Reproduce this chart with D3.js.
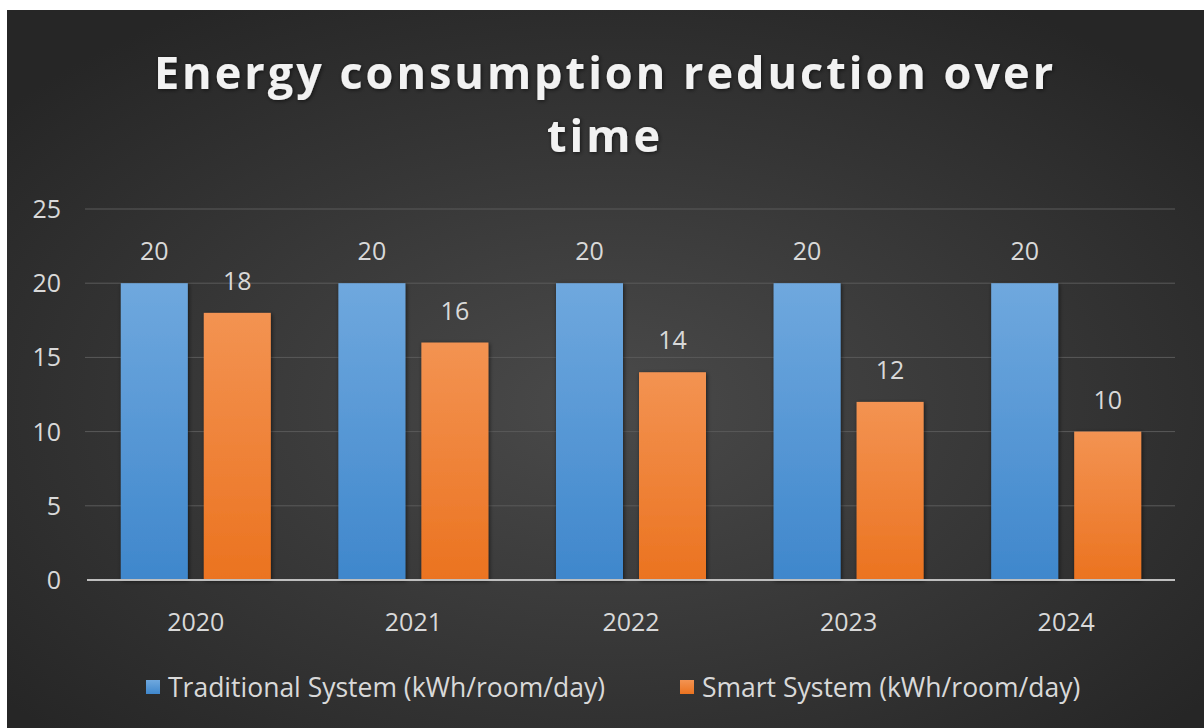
<!DOCTYPE html>
<html>
<head>
<meta charset="utf-8">
<script src="https://cdn.jsdelivr.net/npm/d3@7"></script>
<style>
  html, body { margin: 0; padding: 0; background: #fff; }
  svg { display: block; }
</style>
</head>
<body>
<div id="chart"></div>
<script>
// chart data
const years = ["2020", "2021", "2022", "2023", "2024"]
const traditional = [20, 20, 20, 20, 20]
const smart = [18, 16, 14, 12, 10]
const seriesNames = ["Traditional System (kWh/room/day)", "Smart System (kWh/room/day)"]
const yTicks = [0, 5, 10, 15, 20, 25]

const W = 1204, H = 728
const fontFam = "'Open Sans', 'Noto Sans', sans-serif"
const labelSize = 25

const svg = d3.select("#chart").append("svg")
  .attr("width", W).attr("height", H)

const defs = svg.append("defs")
const bg = defs.append("radialGradient").attr("id", "bg")
  .attr("cx", "50%").attr("cy", "55%").attr("r", "65%")
bg.append("stop").attr("offset", "0%").attr("stop-color", "#4a4a4a")
bg.append("stop").attr("offset", "100%").attr("stop-color", "#262626")

const gBlue = defs.append("linearGradient").attr("id", "gBlue")
  .attr("x1", 0).attr("y1", 0).attr("x2", 0).attr("y2", 1)
gBlue.append("stop").attr("offset", "0%").attr("stop-color", "#6fa8de")
gBlue.append("stop").attr("offset", "100%").attr("stop-color", "#3f87cc")
const gOrange = defs.append("linearGradient").attr("id", "gOrange")
  .attr("x1", 0).attr("y1", 0).attr("x2", 0).attr("y2", 1)
gOrange.append("stop").attr("offset", "0%").attr("stop-color", "#f39352")
gOrange.append("stop").attr("offset", "100%").attr("stop-color", "#eb7320")

const shadow = defs.append("filter").attr("id", "shadow")
  .attr("x", "-10%").attr("y", "-10%").attr("width", "130%").attr("height", "130%")
shadow.append("feDropShadow").attr("dx", 1).attr("dy", 1).attr("stdDeviation", 2)
  .attr("flood-color", "#000").attr("flood-opacity", 0.6)

// background panel (white strip on top/left)
svg.append("rect").attr("x", 7).attr("y", 10).attr("width", W - 7).attr("height", H - 10)
  .attr("fill", "url(#bg)")

// title
const title = svg.append("text")
  .attr("text-anchor", "middle")
  .attr("fill", "#f2f2f2")
  .attr("font-family", fontFam)
  .attr("font-weight", "bold")
  .attr("font-size", 45)
  .attr("letter-spacing", 3)
  .attr("filter", "url(#shadow)")
title.append("tspan").attr("x", 605).attr("y", 89).text("Energy consumption reduction over")
title.append("tspan").attr("x", 605).attr("y", 152).text("time")

// scales
const x = d3.scaleBand().domain(years).range([87, 1175])
const y = d3.scaleLinear().domain([0, 25]).range([580, 209])

const barW = 67
const offset = 41.5

// gridlines
svg.append("g").selectAll("line")
  .data(yTicks.filter(d => d > 0))
  .join("line")
    .attr("x1", 85).attr("x2", 1175)
    .attr("y1", d => y(d)).attr("y2", d => y(d))
    .attr("stroke", "#5a5a5a").attr("stroke-width", 1)

// y tick labels
svg.append("g").selectAll("text")
  .data(yTicks)
  .join("text")
    .attr("x", 61).attr("y", d => y(d))
    .attr("dy", "0.36em")
    .attr("text-anchor", "end")
    .attr("fill", "#d9d9d9")
    .attr("font-family", fontFam)
    .attr("font-size", labelSize)
    .text(d => d)

// bars
const series = [
  {values: traditional, fill: "url(#gBlue)", dx: -offset},
  {values: smart, fill: "url(#gOrange)", dx: offset}
]
series.forEach(s => {
  const g = svg.append("g")
  g.selectAll("rect")
    .data(years)
    .join("rect")
      .attr("x", (d, i) => x(d) + x.bandwidth() / 2 + s.dx - barW / 2)
      .attr("y", (d, i) => y(s.values[i]))
      .attr("width", barW)
      .attr("height", (d, i) => y(0) - y(s.values[i]))
      .attr("fill", s.fill)
      .attr("filter", "url(#shadow)")
  g.selectAll("text")
    .data(years)
    .join("text")
      .attr("x", (d, i) => x(d) + x.bandwidth() / 2 + s.dx)
      .attr("y", (d, i) => y(s.values[i]) - 23)
      .attr("text-anchor", "middle")
      .attr("fill", "#d9d9d9")
      .attr("font-family", fontFam)
      .attr("font-size", labelSize)
      .text((d, i) => s.values[i])
})

// x axis line
svg.append("line")
  .attr("x1", 87).attr("x2", 1175)
  .attr("y1", y(0)).attr("y2", y(0))
  .attr("stroke", "#bfbfbf").attr("stroke-width", 2)

// x tick labels
svg.append("g").selectAll("text")
  .data(years)
  .join("text")
    .attr("x", d => x(d) + x.bandwidth() / 2)
    .attr("y", 631)
    .attr("text-anchor", "middle")
    .attr("fill", "#d9d9d9")
    .attr("font-family", fontFam)
    .attr("font-size", labelSize)
    .text(d => d)

// legend
const legendX = [146, 680]
const legendFill = ["url(#gBlue)", "url(#gOrange)"]
seriesNames.forEach((name, i) => {
  svg.append("rect")
    .attr("x", legendX[i]).attr("y", 680)
    .attr("width", 14).attr("height", 14)
    .attr("fill", legendFill[i])
  svg.append("text")
    .attr("x", legendX[i] + 22).attr("y", 697)
    .attr("fill", "#d9d9d9")
    .attr("font-family", fontFam)
    .attr("font-size", 26.5)
    .text(name)
})
</script>
</body>
</html>
